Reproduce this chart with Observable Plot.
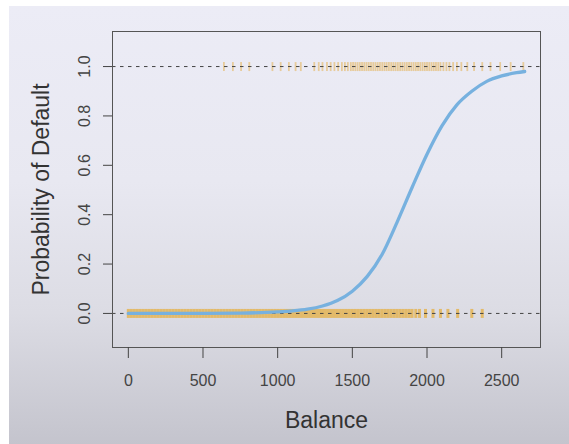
<!DOCTYPE html>
<html><head><meta charset="utf-8">
<script src="https://cdn.jsdelivr.net/npm/d3@7"></script>
<script src="https://cdn.jsdelivr.net/npm/@observablehq/plot@0.6"></script>
<style>
html,body{margin:0;padding:0;background:#fff;}
#wrap{position:relative;width:569px;height:444px;overflow:hidden;}
#bg{position:absolute;left:9px;top:6px;right:0;bottom:0;
 background:linear-gradient(to bottom,#ececf6 0%,#e8e8f1 40%,#dcdce4 70%,#c4c4cd 100%);}
#chart{position:absolute;left:0;top:0;}
</style></head><body>
<div id="wrap"><div id="bg"></div><div id="chart"></div></div>
<script>
// Balances of customers who did not default (plotted at 0)
const balanceNo = [0,20,40,60,80,100,120,140,160,180,200,220,240,260,280,300,320,340,360,380,400,420,440,460,480,500,520,540,560,580,600,620,640,660,680,700,720,740,760,780,800,820,840,860,880,900,920,940,960,980,1000,1020,1040,1060,1080,1100,1120,1140,1160,1180,1200,1220,1240,1260,1280,1300,1320,1340,1360,1380,1400,1420,1440,1460,1480,1500,1520,1540,1560,1580,1600,1620,1640,1660,1680,1700,1720,1740,1760,1780,1800,1820,1840,1860,1880,1900,1925,1950,1990,2040,2090,2140,2205,2300,2370];
// Balances of customers who defaulted (plotted at 1)
const balanceYes = [640,700,755,810,965,1020,1075,1120,1155,1245,1275,1300,1330,1355,1380,1405,1430,1450,1470,1490,1505,1520,1535,1550,1565,1580,1595,1610,1625,1640,1655,1670,1685,1700,1715,1730,1745,1760,1775,1790,1805,1820,1835,1850,1865,1880,1895,1910,1925,1940,1955,1970,1985,2000,2015,2030,2045,2060,2075,2090,2110,2130,2150,2175,2200,2230,2270,2315,2370,2425,2490,2560,2645];
// Fitted probability curve
const curveBalance = [0,250,500,750,1000,1100,1200,1300,1400,1500,1600,1700,1800,1900,2000,2100,2200,2300,2400,2500,2600,2654];
const curveProb = [0.00002,0.0001,0.0004,0.0015,0.006,0.01,0.017,0.03,0.052,0.09,0.15,0.24,0.37,0.51,0.645,0.76,0.845,0.9,0.94,0.962,0.975,0.98];
const refLevels = [0, 1];
const xTicks = [0, 500, 1000, 1500, 2000, 2500];
const yTicks = [0, 0.2, 0.4, 0.6, 0.8, 1.0];

const points = [
  ...balanceNo.map(b => ({balance: b, outcome: 0})),
  ...balanceYes.map(b => ({balance: b, outcome: 1}))
];
const curve = curveBalance.map((b, i) => ({balance: b, prob: curveProb[i]}));

const vbar = {draw(ctx) { ctx.moveTo(0, -4.5); ctx.lineTo(0, 4.5); }};

const chart = Plot.plot({
  width: 569, height: 444,
  marginLeft: 112, marginRight: 29, marginTop: 31, marginBottom: 97,
  style: {background: "transparent", fontFamily: "'Liberation Sans', Arial, Helvetica, sans-serif", color: "#333"},
  x: {domain: [-106, 2760]},
  y: {domain: [-0.138, 1.142]},
  marks: [
    Plot.dot(points.filter(d => d.outcome === 0), {x: "balance", y: "outcome", symbol: vbar, fill: "none", stroke: "#e8a317", strokeWidth: 3, strokeOpacity: 0.6}),
    Plot.dot(points.filter(d => d.outcome === 1), {x: "balance", y: "outcome", symbol: vbar, fill: "none", stroke: "#e3a020", strokeWidth: 1.8, strokeOpacity: 0.42}),
    Plot.ruleY(refLevels, {stroke: "#444", strokeDasharray: "3.5,4.5", strokeWidth: 1}),
    Plot.line(curve, {x: "balance", y: "prob", stroke: "#77b1df", strokeWidth: 3.3, curve: "monotone-x"}),
    Plot.frame({stroke: "#555"}),
    Plot.axisX({ticks: xTicks, tickSize: 11, tickPadding: 16, fontSize: 16, tickFormat: d => String(d), label: null, color: "#444"}),
    Plot.axisY({ticks: yTicks, tickSize: 9, tickPadding: 14, tickRotate: -90, tickFormat: d3.format(".1f"), fontSize: 16, label: null, color: "#444"}),
    Plot.text(["Balance"], {frameAnchor: "bottom", dy: 73, fontSize: 23, textAnchor: "middle", lineAnchor: "middle", fill: "#333"}),
    Plot.text(["Probability of Default"], {frameAnchor: "left", dx: -71, rotate: -90, fontSize: 23, textAnchor: "middle", lineAnchor: "middle", fill: "#333"})
  ]
});
document.getElementById("chart").appendChild(chart);
</script>
</body></html>
